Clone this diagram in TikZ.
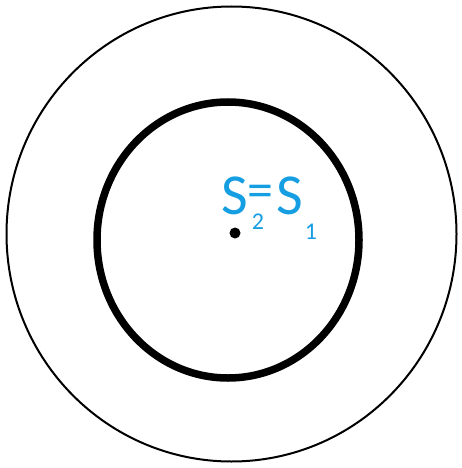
\documentclass[tikz,border=0pt]{standalone}
\usepackage{fontspec}
\setmainfont{Carlito}
\definecolor{lblblue}{RGB}{22,158,226}
\begin{document}
\begin{tikzpicture}[x=1pt,y=-1pt,
  lbl/.style={text=lblblue,inner sep=0pt,anchor=center},
  big/.style={lbl,font=\fontsize{58}{58}\selectfont},
  small/.style={lbl,font=\fontsize{24}{24}\selectfont}]
\useasboundingbox (0,0) rectangle (461,468);
\draw[line width=2pt] (231.5,234) ellipse [x radius=225, y radius=227.5];
\draw[line width=7.5pt] (228,240) ellipse [x radius=131, y radius=138];
\fill (235,233) circle [radius=5.5];
\node[big] (s2) at (235,196) {S};
\node[lbl,font=\fontsize{52}{52}\selectfont,anchor=base,text height=0.5em,text depth=0pt] (eq) at (260,207) {=};
\node[big] (s1) at (290,196) {S};
\node[small] (n2) at (258,222) {2};
\node[small] (n1) at (311,231.5) {1};
\end{tikzpicture}
\end{document}
